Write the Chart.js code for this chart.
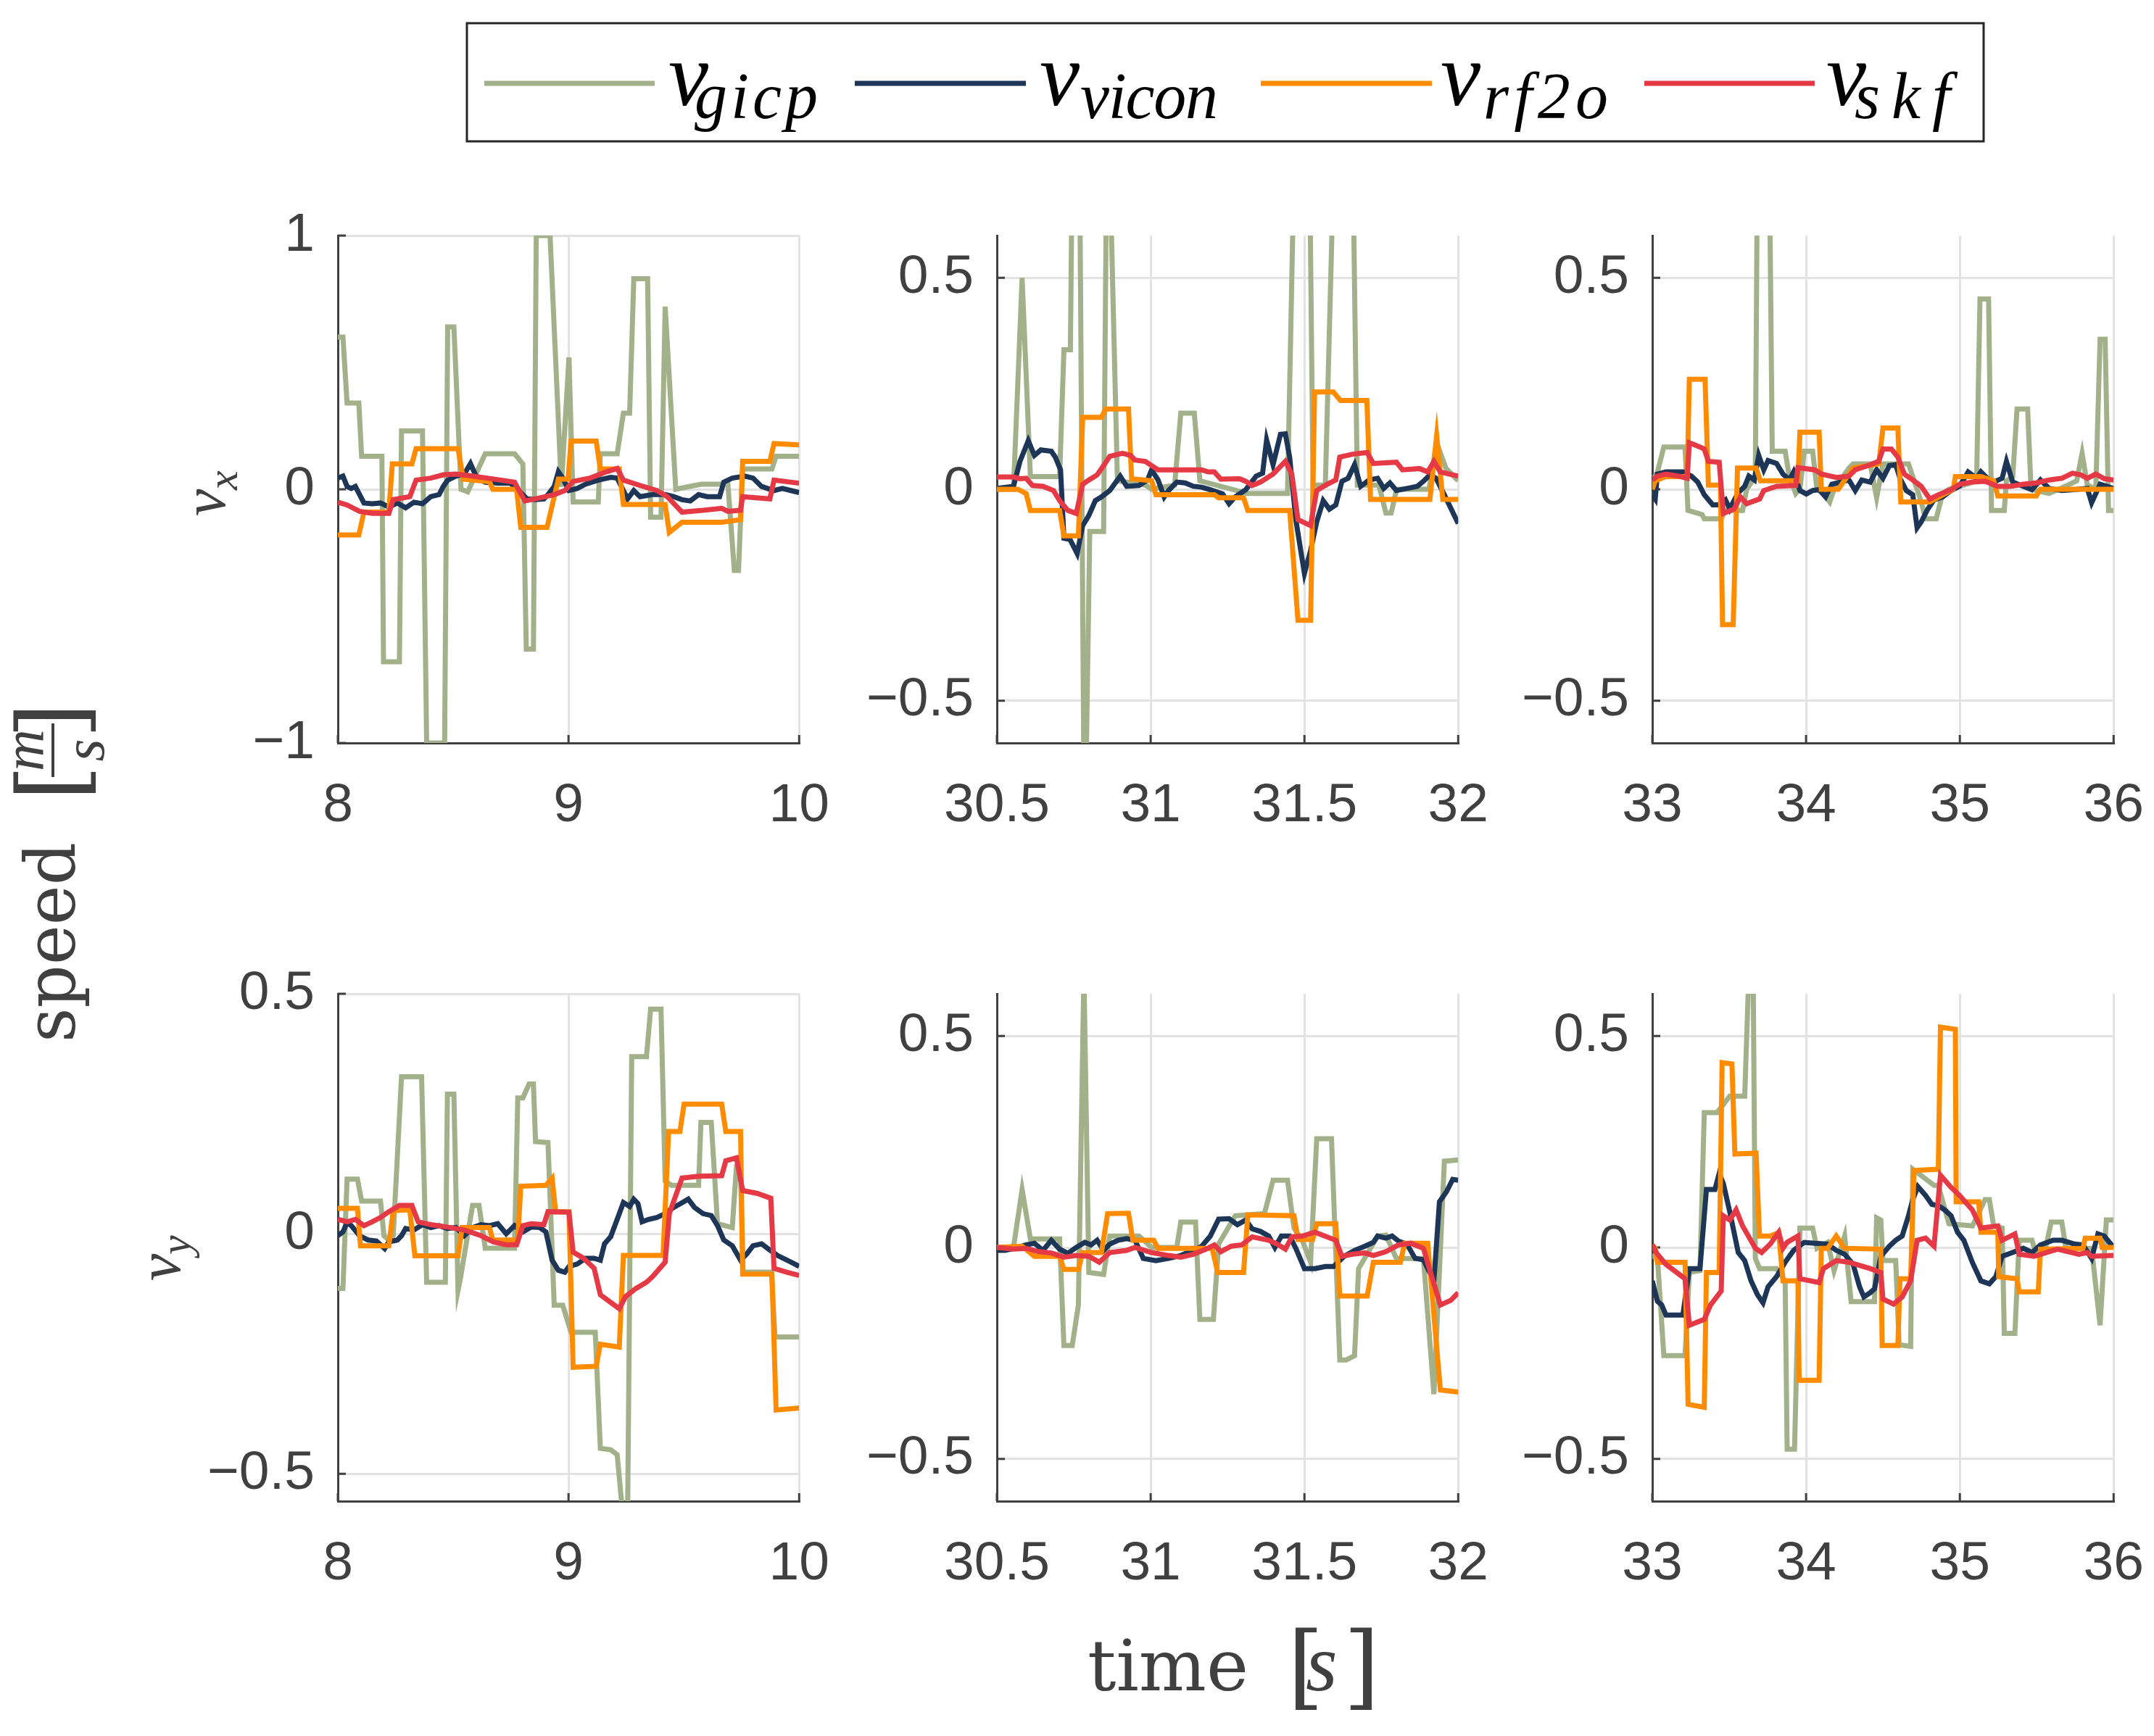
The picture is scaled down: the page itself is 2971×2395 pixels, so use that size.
<!DOCTYPE html>
<html>
<head>
<meta charset="utf-8">
<script src="https://cdn.jsdelivr.net/npm/chart.js@4.4.1/dist/chart.umd.min.js"></script>
<style>
  html, body { margin: 0; padding: 0; background: #fff; overflow: hidden; }
  #page { position: relative; width: 2971px; height: 2395px; overflow: hidden; }
  canvas { position: absolute; }
  #labels { position: absolute; left: 0; top: 0; pointer-events: none; }
  .mi { font-family: 'Liberation Serif', 'Times New Roman', serif; font-style: italic; }
  .rm { font-family: 'DejaVu Serif', serif; }
</style>
</head>
<body>
<div id="page">
  <canvas id="p0"></canvas>
  <canvas id="p1"></canvas>
  <canvas id="p2"></canvas>
  <canvas id="p3"></canvas>
  <canvas id="p4"></canvas>
  <canvas id="p5"></canvas>
  <svg id="labels" width="2971" height="2395" xmlns="http://www.w3.org/2000/svg">
    <!-- legend -->
    <rect x="644" y="32" width="2092" height="163" fill="#fff" stroke="#262626" stroke-width="3"/>
    <line x1="668" y1="115" x2="903" y2="115" stroke="#a3b18a" stroke-width="7"/>
    <line x1="1179" y1="115" x2="1415" y2="115" stroke="#1d3557" stroke-width="7"/>
    <line x1="1739" y1="115" x2="1975" y2="115" stroke="#ff8c00" stroke-width="7"/>
    <line x1="2268" y1="115" x2="2503" y2="115" stroke="#e63946" stroke-width="7"/>
    <g fill="#000">
      <text class="mi" x="922" y="145" font-size="124">v</text>
      <text class="mi" x="958" y="163" font-size="90" textLength="170" lengthAdjust="spacing">gicp</text>
      <text class="mi" x="1434" y="145" font-size="124">v</text>
      <text class="mi" x="1490" y="163" font-size="90" textLength="190" lengthAdjust="spacing">vicon</text>
      <text class="mi" x="1987" y="145" font-size="124">v</text>
      <text class="mi" x="2046" y="163" font-size="90" textLength="172" lengthAdjust="spacing">rf2o</text>
      <text class="mi" x="2519" y="145" font-size="124">v</text>
      <text class="mi" x="2558" y="163" font-size="90" textLength="132" lengthAdjust="spacing">skf</text>
    </g>
    <!-- y labels -->
    <g fill="#404040">
      <g transform="rotate(-90)">
        <text class="rm" x="-1438" y="103" font-size="96" textLength="276" lengthAdjust="spacingAndGlyphs">speed</text>
        <text class="rm" x="-1105" y="115" font-size="128">[</text>
        <text class="mi" x="-1035" y="59" font-size="80" text-anchor="middle">m</text>
        <line x1="-1072" y1="73" x2="-998" y2="73" stroke="#404040" stroke-width="4"/>
        <text class="mi" x="-1035" y="143" font-size="80" text-anchor="middle">s</text>
        <text class="rm" x="-969" y="115" font-size="128" text-anchor="end">]</text>
        <text class="mi" x="-712" y="310" font-size="84">v</text>
        <text class="mi" x="-676" y="327" font-size="60">x</text>
        <text class="mi" x="-1767" y="248" font-size="84">v</text>
        <text class="mi" x="-1731" y="262" font-size="60">y</text>
      </g>
      <!-- x label -->
      <text class="rm" x="1500" y="2332" font-size="98" textLength="222" lengthAdjust="spacingAndGlyphs">time</text>
      <text class="rm" x="1776" y="2342" font-size="128">[</text>
      <text class="mi" x="1801" y="2332" font-size="112">s</text>
      <text class="rm" x="1853" y="2342" font-size="128">]</text>
    </g>
  </svg>
</div>
<script>
// series order: gicp, vicon, rf2o, skf
var seriesNames = ['v_gicp', 'v_vicon', 'v_rf2o', 'v_skf'];
var seriesColors = ['#a3b18a', '#1d3557', '#ff8c00', '#e63946'];

// axis windows and ticks
var xRangeA = [8, 10], xTicksA = [8, 9, 10];
var xRangeB = [30.5, 32], xTicksB = [30.5, 31, 31.5, 32];
var xRangeC = [33, 36], xTicksC = [33, 34, 35, 36];
var yRangeVxA = [-1, 1], yTicksVxA = [-1, 0, 1];
var yRangeWide = [-0.6, 0.6], yTicksHalf = [-0.5, 0, 0.5];
var yRangeVyA = [-0.557, 0.5];

// ---- v_x, 8..10 s ----
var vxGicpA = [[8.000,0.60],[8.022,0.60],[8.040,0.34],[8.091,0.34],[8.103,0.13],[8.191,0.13],[8.198,-0.68],[8.267,-0.68],[8.276,0.23],[8.367,0.23],[8.385,-1.0],[8.463,-1.0],[8.476,0.64],[8.503,0.64],[8.534,0.0],[8.563,-0.01],[8.639,0.14],[8.766,0.14],[8.802,0.10],[8.817,-0.63],[8.848,-0.63],[8.860,1.0],[8.920,1.0],[8.969,0.01],[9.002,0.52],[9.020,-0.05],[9.129,-0.05],[9.138,0.14],[9.211,0.14],[9.238,0.30],[9.265,0.30],[9.283,0.83],[9.343,0.83],[9.356,-0.11],[9.401,-0.11],[9.419,0.72],[9.465,0.0],[9.574,0.02],[9.691,0.02],[9.719,-0.32],[9.737,-0.32],[9.755,0.08],[9.882,0.08],[9.900,0.13],[10.0,0.13]];
var vxViconA = [[8.000,0.044],[8.022,0.052],[8.040,0.011],[8.058,0.003],[8.076,0.011],[8.113,-0.054],[8.149,-0.057],[8.185,-0.054],[8.221,-0.070],[8.258,-0.054],[8.294,-0.073],[8.330,-0.051],[8.367,-0.057],[8.403,-0.029],[8.439,-0.021],[8.457,0.011],[8.476,0.036],[8.512,0.052],[8.548,0.060],[8.575,0.101],[8.603,0.044],[8.639,0.028],[8.693,0.024],[8.748,0.024],[8.784,-0.005],[8.820,-0.038],[8.857,-0.041],[8.893,-0.038],[8.911,-0.021],[8.938,0.011],[8.956,0.069],[8.975,0.044],[9.002,-0.005],[9.038,0.003],[9.074,0.020],[9.129,0.036],[9.183,0.047],[9.211,0.044],[9.238,-0.005],[9.256,-0.038],[9.283,-0.005],[9.310,-0.029],[9.365,-0.021],[9.419,-0.021],[9.456,-0.029],[9.492,-0.041],[9.528,-0.046],[9.564,-0.021],[9.601,-0.029],[9.655,-0.029],[9.673,0.028],[9.710,0.044],[9.764,0.052],[9.800,0.044],[9.837,0.011],[9.891,-0.005],[9.927,0.003],[9.964,-0.005],[10.0,-0.013]];
var vxRf2oA = [[8.000,-0.18],[8.091,-0.18],[8.113,-0.09],[8.221,-0.09],[8.236,0.10],[8.321,0.10],[8.339,0.16],[8.521,0.16],[8.544,0.04],[8.657,0.03],[8.672,0.0],[8.775,0.0],[8.793,-0.15],[8.907,-0.15],[8.956,0.04],[8.998,0.04],[9.011,0.19],[9.120,0.19],[9.138,0.08],[9.220,0.08],[9.238,-0.06],[9.419,-0.06],[9.437,-0.17],[9.492,-0.13],[9.664,-0.13],[9.746,-0.12],[9.755,0.11],[9.873,0.11],[9.891,0.18],[10.0,0.175]];
var vxSkfA = [[8.000,-0.051],[8.040,-0.062],[8.094,-0.087],[8.149,-0.095],[8.221,-0.095],[8.240,-0.041],[8.312,-0.029],[8.339,0.036],[8.403,0.044],[8.457,0.057],[8.512,0.060],[8.584,0.052],[8.648,0.044],[8.766,0.028],[8.811,-0.046],[8.875,-0.034],[8.938,-0.021],[8.984,-0.005],[9.020,0.031],[9.093,0.044],[9.165,0.069],[9.211,0.082],[9.238,0.036],[9.310,0.015],[9.383,-0.005],[9.428,-0.029],[9.492,-0.090],[9.583,-0.083],[9.664,-0.075],[9.691,-0.087],[9.746,-0.083],[9.755,-0.029],[9.873,-0.038],[9.891,0.036],[10.0,0.024]];

// ---- v_x, 30.5..32 s ----
var vxGicpB = [[30.500,0.0],[30.554,0.0],[30.582,0.50],[30.609,0.03],[30.704,0.03],[30.718,0.33],[30.739,0.33],[30.748,1.0],[30.767,1.0],[30.785,-0.9],[30.802,-0.10],[30.847,-0.10],[30.857,0.8],[30.866,0.8],[30.892,0.02],[30.983,0.01],[31.003,0.0],[31.078,0.01],[31.098,0.18],[31.142,0.18],[31.160,0.02],[31.316,-0.01],[31.432,-0.01],[31.445,-0.01],[31.470,0.9],[31.515,0.9],[31.528,0.01],[31.568,0.01],[31.600,0.9],[31.655,0.9],[31.672,0.01],[31.742,0.01],[31.765,-0.056],[31.782,-0.056],[31.800,0.0],[31.905,0.0],[31.930,0.11],[31.960,0.05],[32.0,0.02]];
var vxViconB = [[30.500,0.002],[30.554,0.007],[30.575,0.066],[30.602,0.115],[30.622,0.080],[30.643,0.093],[30.677,0.090],[30.690,0.076],[30.707,0.046],[30.718,-0.116],[30.738,-0.119],[30.761,-0.152],[30.779,-0.086],[30.799,-0.062],[30.820,-0.027],[30.840,-0.018],[30.867,-0.003],[30.901,0.031],[30.922,0.007],[30.962,0.009],[30.990,0.022],[31.003,0.046],[31.024,0.022],[31.044,-0.018],[31.058,-0.003],[31.085,0.017],[31.112,0.015],[31.139,0.007],[31.166,0.005],[31.194,-0.001],[31.234,-0.011],[31.255,-0.034],[31.275,-0.018],[31.309,-0.001],[31.343,0.031],[31.364,0.038],[31.377,0.117],[31.398,0.058],[31.422,0.130],[31.438,0.131],[31.452,0.076],[31.472,-0.072],[31.500,-0.199],[31.520,-0.145],[31.540,-0.077],[31.561,-0.027],[31.581,-0.047],[31.602,-0.037],[31.622,0.019],[31.642,0.026],[31.663,0.058],[31.683,0.007],[31.710,0.022],[31.738,0.026],[31.758,0.002],[31.778,0.015],[31.799,-0.003],[31.833,0.002],[31.867,0.007],[31.887,0.019],[31.908,0.034],[31.928,0.026],[31.955,-0.013],[32.0,-0.081]];
var vxRf2oB = [[30.500,0.0],[30.568,0.0],[30.595,-0.01],[30.609,-0.05],[30.704,-0.05],[30.718,-0.11],[30.765,-0.11],[30.779,0.17],[30.840,0.17],[30.854,0.19],[30.928,0.19],[30.938,0.025],[31.003,0.02],[31.017,-0.013],[31.207,-0.013],[31.221,-0.02],[31.302,-0.02],[31.316,-0.05],[31.452,-0.05],[31.479,-0.31],[31.520,-0.31],[31.533,0.23],[31.594,0.23],[31.617,0.21],[31.703,0.21],[31.715,-0.024],[31.908,-0.024],[31.930,0.127],[31.950,-0.024],[32.0,-0.024]];
var vxSkfB = [[30.500,0.029],[30.554,0.029],[30.575,0.025],[30.595,0.026],[30.616,0.009],[30.650,0.007],[30.684,-0.003],[30.704,-0.027],[30.731,-0.050],[30.758,-0.057],[30.779,0.012],[30.799,0.022],[30.826,0.034],[30.847,0.056],[30.867,0.078],[30.908,0.085],[30.935,0.080],[30.949,0.069],[30.983,0.066],[31.003,0.056],[31.024,0.046],[31.166,0.046],[31.187,0.041],[31.207,0.041],[31.228,0.024],[31.289,0.025],[31.309,0.019],[31.330,0.009],[31.357,0.017],[31.398,0.036],[31.438,0.066],[31.459,0.036],[31.479,-0.072],[31.520,-0.086],[31.540,-0.003],[31.574,0.012],[31.602,0.022],[31.615,0.076],[31.656,0.083],[31.704,0.087],[31.724,0.061],[31.799,0.064],[31.819,0.046],[31.874,0.049],[31.901,0.041],[31.921,0.066],[31.942,0.041],[32.0,0.031]];

// ---- v_x, 33..36 s ----
var vxGicpC = [[33.000,0.02],[33.033,0.04],[33.075,0.10],[33.213,0.10],[33.232,-0.05],[33.324,-0.06],[33.338,-0.07],[33.448,-0.07],[33.476,-0.05],[33.587,-0.05],[33.614,0.0],[33.670,0.03],[33.686,0.9],[33.758,0.9],[33.780,0.09],[33.864,0.09],[33.891,0.03],[33.933,-0.01],[33.960,0.0],[33.988,0.09],[34.043,0.09],[34.071,0.0],[34.113,-0.01],[34.154,-0.03],[34.182,0.0],[34.279,0.05],[34.306,0.06],[34.417,0.06],[34.459,-0.02],[34.500,0.06],[34.666,0.06],[34.694,0.03],[34.749,-0.03],[34.777,-0.07],[34.846,-0.07],[34.888,-0.01],[34.929,0.0],[35.026,0.01],[35.109,0.02],[35.131,0.45],[35.187,0.45],[35.206,-0.05],[35.289,-0.05],[35.303,0.02],[35.344,0.03],[35.372,0.19],[35.441,0.19],[35.463,0.0],[35.580,-0.01],[35.704,0.01],[35.760,0.02],[35.795,0.085],[35.829,0.01],[35.884,0.0],[35.912,0.355],[35.945,0.355],[35.967,-0.05],[36.0,-0.05]];
var vxViconC = [[33.000,-0.013],[33.019,-0.023],[33.033,0.036],[33.089,0.041],[33.199,0.041],[33.255,0.031],[33.296,0.017],[33.338,-0.013],[33.393,-0.037],[33.435,-0.037],[33.476,-0.025],[33.504,-0.047],[33.531,-0.027],[33.559,-0.008],[33.601,0.007],[33.628,0.031],[33.664,0.022],[33.692,0.080],[33.725,0.046],[33.753,0.068],[33.808,0.061],[33.850,0.036],[33.891,0.022],[33.919,0.041],[33.960,-0.003],[34.002,-0.011],[34.043,-0.003],[34.085,-0.001],[34.127,-0.018],[34.168,0.012],[34.223,0.017],[34.279,0.022],[34.320,-0.003],[34.362,0.022],[34.417,0.017],[34.459,0.046],[34.500,0.026],[34.542,0.056],[34.583,0.058],[34.611,0.026],[34.652,-0.003],[34.694,-0.013],[34.722,-0.091],[34.749,-0.077],[34.791,-0.047],[34.832,-0.025],[34.888,-0.018],[34.943,-0.003],[34.998,0.007],[35.054,0.041],[35.109,0.026],[35.137,0.041],[35.178,0.026],[35.220,0.017],[35.275,0.026],[35.303,0.066],[35.344,0.017],[35.413,0.007],[35.469,-0.001],[35.524,0.022],[35.580,0.002],[35.663,-0.003],[35.746,-0.001],[35.829,0.002],[35.857,-0.032],[35.912,0.012],[36.0,0.002]];
var vxRf2oC = [[33.000,0.0],[33.019,0.02],[33.089,0.03],[33.227,0.03],[33.241,0.26],[33.343,0.26],[33.365,0.01],[33.443,0.01],[33.457,-0.32],[33.526,-0.32],[33.554,0.05],[33.675,0.05],[33.703,0.02],[33.947,0.02],[33.960,0.135],[34.085,0.135],[34.099,0.0],[34.210,0.0],[34.306,0.05],[34.473,0.06],[34.500,0.145],[34.597,0.145],[34.616,-0.03],[34.805,-0.03],[34.957,0.0],[34.971,0.03],[35.137,0.03],[35.220,0.02],[35.247,-0.016],[35.497,-0.016],[35.524,0.0],[36.0,0.0]];
var vxSkfC = [[33.000,0.022],[33.033,0.031],[33.089,0.036],[33.172,0.031],[33.227,0.026],[33.241,0.110],[33.310,0.100],[33.338,0.095],[33.365,0.066],[33.435,0.064],[33.462,-0.057],[33.531,-0.047],[33.573,-0.018],[33.614,-0.034],[33.698,-0.023],[33.725,-0.003],[33.808,0.007],[33.933,0.009],[33.947,0.051],[34.057,0.046],[34.099,0.036],[34.196,0.028],[34.279,0.031],[34.320,0.046],[34.403,0.056],[34.472,0.066],[34.500,0.095],[34.555,0.095],[34.597,0.076],[34.639,0.036],[34.694,0.022],[34.749,0.007],[34.805,-0.023],[34.860,-0.013],[34.943,-0.001],[34.998,0.012],[35.081,0.017],[35.164,0.019],[35.247,0.007],[35.330,0.007],[35.413,0.012],[35.497,0.015],[35.580,0.022],[35.663,0.026],[35.732,0.038],[35.787,0.034],[35.829,0.026],[35.884,0.036],[35.939,0.025],[36.0,0.022]];

// ---- v_y, 8..10 s ----
var vyGicpA = [[8.000,-0.114],[8.022,-0.114],[8.040,0.114],[8.085,0.114],[8.103,0.068],[8.185,0.068],[8.200,-0.004],[8.221,-0.013],[8.240,-0.004],[8.276,0.327],[8.363,0.327],[8.385,-0.101],[8.466,-0.101],[8.475,0.291],[8.503,0.291],[8.521,-0.118],[8.530,-0.097],[8.584,0.059],[8.612,0.059],[8.639,-0.030],[8.766,-0.030],[8.780,0.283],[8.802,0.283],[8.829,0.312],[8.848,0.312],[8.857,0.192],[8.911,0.190],[8.938,-0.149],[8.975,-0.149],[9.011,-0.205],[9.116,-0.205],[9.138,-0.447],[9.183,-0.450],[9.211,-0.460],[9.238,-0.6],[9.256,-0.6],[9.274,0.369],[9.338,0.369],[9.356,0.468],[9.401,0.468],[9.419,0.110],[9.446,0.101],[9.564,0.101],[9.574,0.232],[9.619,0.232],[9.646,0.021],[9.710,0.013],[9.728,0.14],[9.745,0.14],[9.757,-0.08],[9.880,-0.08],[9.895,-0.215],[10.0,-0.215]];
var vyViconA = [[8.000,-0.004],[8.022,0.004],[8.040,0.023],[8.058,0.017],[8.094,-0.004],[8.131,-0.013],[8.167,-0.015],[8.203,-0.031],[8.221,-0.017],[8.258,-0.013],[8.276,-0.004],[8.294,0.011],[8.330,0.008],[8.367,0.019],[8.403,0.013],[8.439,0.017],[8.475,0.011],[8.512,0.013],[8.548,-0.004],[8.584,0.013],[8.621,0.019],[8.657,0.017],[8.693,0.021],[8.730,0.0],[8.766,0.017],[8.802,0.004],[8.838,0.014],[8.875,0.013],[8.902,0.004],[8.929,-0.055],[8.956,-0.076],[8.984,-0.080],[9.002,-0.068],[9.038,-0.063],[9.074,-0.051],[9.111,-0.051],[9.138,-0.055],[9.156,-0.021],[9.183,-0.006],[9.211,0.030],[9.238,0.065],[9.265,0.057],[9.283,0.072],[9.301,0.063],[9.319,0.025],[9.347,0.030],[9.383,0.034],[9.419,0.042],[9.456,0.055],[9.483,0.062],[9.519,0.072],[9.546,0.055],[9.583,0.042],[9.619,0.038],[9.646,0.017],[9.673,-0.013],[9.710,-0.025],[9.746,-0.055],[9.773,-0.042],[9.800,-0.025],[9.837,-0.021],[9.873,-0.034],[9.909,-0.046],[9.964,-0.059],[10.0,-0.068]];
var vyRf2oA = [[8.000,0.053],[8.085,0.053],[8.098,-0.025],[8.221,-0.025],[8.240,0.048],[8.312,0.050],[8.334,-0.046],[8.521,-0.046],[8.539,0.013],[8.657,0.013],[8.672,-0.013],[8.780,-0.013],[8.793,0.099],[8.902,0.101],[8.929,0.116],[8.944,0.046],[9.002,0.046],[9.020,-0.278],[9.120,-0.276],[9.138,-0.230],[9.220,-0.236],[9.238,-0.045],[9.410,-0.045],[9.434,0.213],[9.483,0.213],[9.501,0.270],[9.664,0.270],[9.682,0.213],[9.746,0.213],[9.755,-0.084],[9.882,-0.084],[9.900,-0.367],[10.0,-0.363]];
var vySkfA = [[8.000,0.030],[8.040,0.025],[8.076,0.030],[8.113,0.017],[8.149,0.025],[8.185,0.034],[8.221,0.046],[8.267,0.059],[8.321,0.059],[8.348,0.025],[8.403,0.019],[8.475,0.014],[8.548,0.008],[8.621,-0.004],[8.675,-0.017],[8.730,-0.023],[8.775,-0.023],[8.802,0.017],[8.838,0.021],[8.893,0.019],[8.911,0.046],[9.002,0.045],[9.020,-0.038],[9.065,-0.051],[9.111,-0.072],[9.138,-0.127],[9.183,-0.143],[9.220,-0.156],[9.247,-0.131],[9.292,-0.114],[9.338,-0.101],[9.365,-0.089],[9.419,-0.059],[9.437,0.042],[9.492,0.116],[9.564,0.120],[9.664,0.121],[9.682,0.152],[9.728,0.158],[9.755,0.090],[9.819,0.084],[9.877,0.074],[9.891,-0.072],[9.946,-0.080],[10.0,-0.087]];

// ---- v_y, 30.5..32 s ----
var vyGicpB = [[30.500,0.0],[30.554,0.0],[30.582,0.137],[30.609,0.020],[30.704,0.020],[30.718,-0.232],[30.745,-0.232],[30.765,-0.136],[30.783,0.65],[30.799,-0.059],[30.847,-0.064],[30.867,0.027],[30.962,0.027],[31.003,0.0],[31.085,0.0],[31.098,0.060],[31.146,0.060],[31.160,-0.170],[31.204,-0.170],[31.221,0.008],[31.275,0.075],[31.370,0.080],[31.398,0.159],[31.445,0.159],[31.466,0.046],[31.493,0.017],[31.520,-0.035],[31.540,0.257],[31.588,0.257],[31.615,-0.266],[31.636,-0.266],[31.663,-0.256],[31.676,-0.050],[31.738,0.027],[31.765,0.029],[31.799,-0.026],[31.887,-0.026],[31.921,-0.347],[31.955,0.204],[32.0,0.207]];
var vyViconB = [[30.500,-0.007],[30.527,-0.007],[30.568,0.0],[30.595,0.006],[30.622,0.010],[30.650,-0.007],[30.677,0.017],[30.704,-0.004],[30.731,-0.014],[30.758,0.0],[30.786,0.012],[30.806,0.006],[30.826,0.017],[30.847,-0.007],[30.867,0.008],[30.894,0.017],[30.922,0.021],[30.949,0.017],[30.976,-0.026],[31.017,-0.031],[31.058,-0.026],[31.098,-0.019],[31.139,-0.007],[31.166,0.003],[31.194,0.027],[31.221,0.067],[31.255,0.068],[31.282,0.054],[31.309,0.065],[31.330,0.044],[31.357,0.038],[31.384,0.027],[31.404,0.0],[31.425,0.027],[31.452,0.027],[31.472,-0.002],[31.500,-0.050],[31.534,-0.050],[31.568,-0.045],[31.595,-0.045],[31.629,-0.021],[31.663,-0.007],[31.697,0.003],[31.724,0.012],[31.738,0.027],[31.765,0.022],[31.785,0.027],[31.806,0.015],[31.833,0.008],[31.860,-0.026],[31.887,-0.029],[31.901,-0.050],[31.921,-0.079],[31.939,0.108],[31.962,0.132],[31.982,0.161],[32.0,0.159]];
var vyRf2oB = [[30.500,0.0],[30.582,0.003],[30.622,-0.021],[30.704,-0.021],[30.718,-0.052],[30.765,-0.052],[30.779,-0.012],[30.840,-0.012],[30.860,0.080],[30.928,0.081],[30.942,0.017],[31.010,0.017],[31.024,-0.002],[31.200,-0.002],[31.218,-0.059],[31.302,-0.059],[31.316,0.077],[31.466,0.075],[31.479,0.019],[31.527,0.019],[31.540,0.056],[31.602,0.056],[31.615,-0.115],[31.704,-0.115],[31.724,-0.035],[31.812,-0.035],[31.826,0.010],[31.901,0.010],[31.942,-0.337],[32.0,-0.342]];
var vySkfB = [[30.500,0.0],[30.554,-0.004],[30.595,-0.002],[30.636,-0.010],[30.677,-0.013],[30.718,-0.023],[30.758,-0.019],[30.799,-0.021],[30.833,-0.035],[30.867,-0.012],[30.922,-0.007],[30.949,0.0],[31.003,-0.012],[31.058,-0.019],[31.098,-0.023],[31.139,-0.016],[31.180,-0.004],[31.207,0.006],[31.228,-0.010],[31.262,0.003],[31.296,0.006],[31.330,0.025],[31.384,0.017],[31.411,0.008],[31.438,-0.004],[31.459,0.025],[31.493,0.027],[31.534,0.036],[31.574,0.025],[31.602,0.017],[31.622,-0.021],[31.656,-0.016],[31.697,-0.013],[31.724,-0.019],[31.765,-0.010],[31.806,0.006],[31.846,0.010],[31.887,-0.002],[31.914,-0.069],[31.942,-0.136],[31.976,-0.125],[32.0,-0.107]];

// ---- v_y, 33..36 s ----
var vyGicpC = [[33.000,-0.021],[33.033,-0.021],[33.075,-0.256],[33.213,-0.256],[33.241,-0.059],[33.310,-0.055],[33.338,0.319],[33.421,0.319],[33.504,0.358],[33.601,0.358],[33.628,0.65],[33.656,0.65],[33.670,-0.026],[33.698,-0.050],[33.808,-0.050],[33.864,-0.079],[33.877,-0.477],[33.925,-0.477],[33.960,0.046],[34.043,0.046],[34.071,-0.002],[34.140,0.012],[34.182,-0.055],[34.251,0.027],[34.293,-0.128],[34.445,-0.128],[34.459,0.070],[34.486,0.065],[34.500,-0.031],[34.583,-0.031],[34.605,-0.230],[34.680,-0.234],[34.694,0.185],[34.832,0.147],[34.860,0.147],[34.929,0.056],[35.082,0.051],[35.164,0.113],[35.192,0.113],[35.220,0.051],[35.275,0.046],[35.289,-0.203],[35.358,-0.203],[35.386,0.017],[35.469,0.017],[35.497,-0.016],[35.552,-0.012],[35.594,0.060],[35.663,0.060],[35.690,-0.002],[35.857,-0.002],[35.912,-0.184],[35.953,0.065],[36.0,0.065]];
var vyViconC = [[33.000,-0.079],[33.033,-0.127],[33.061,-0.136],[33.089,-0.160],[33.199,-0.160],[33.241,-0.050],[33.310,-0.050],[33.352,0.137],[33.407,0.137],[33.435,0.175],[33.462,0.151],[33.504,0.084],[33.559,-0.012],[33.601,-0.031],[33.642,-0.079],[33.684,-0.112],[33.720,-0.131],[33.753,-0.093],[33.808,-0.069],[33.864,-0.035],[33.919,-0.007],[33.988,0.012],[34.057,0.010],[34.140,0.008],[34.196,-0.007],[34.251,-0.016],[34.306,-0.040],[34.348,-0.093],[34.376,-0.117],[34.417,-0.107],[34.445,-0.098],[34.486,-0.021],[34.542,0.003],[34.583,0.017],[34.625,0.027],[34.666,0.075],[34.694,0.113],[34.727,0.144],[34.777,0.123],[34.818,0.102],[34.860,0.099],[34.901,0.089],[34.943,0.075],[34.985,0.036],[35.026,0.017],[35.081,-0.035],[35.137,-0.079],[35.192,-0.086],[35.234,-0.069],[35.275,-0.021],[35.358,-0.010],[35.413,-0.002],[35.469,-0.012],[35.524,0.006],[35.607,0.017],[35.663,0.017],[35.746,0.008],[35.801,0.006],[35.857,-0.026],[35.898,0.032],[35.939,0.027],[36.0,0.0]];
var vyRf2oC = [[33.000,0.006],[33.019,-0.002],[33.033,-0.035],[33.213,-0.035],[33.233,-0.371],[33.338,-0.378],[33.352,-0.059],[33.435,-0.059],[33.454,0.437],[33.518,0.434],[33.537,0.221],[33.675,0.223],[33.697,0.027],[33.767,0.027],[33.822,0.035],[33.850,-0.079],[33.947,-0.079],[33.955,-0.314],[34.085,-0.314],[34.099,-0.002],[34.140,-0.002],[34.196,0.027],[34.251,-0.002],[34.486,-0.004],[34.495,-0.232],[34.597,-0.232],[34.611,-0.074],[34.680,-0.074],[34.702,0.182],[34.860,0.185],[34.874,0.521],[34.971,0.516],[34.976,0.108],[35.123,0.108],[35.137,0.036],[35.247,0.036],[35.253,-0.069],[35.372,-0.074],[35.386,-0.105],[35.510,-0.105],[35.524,-0.004],[35.801,-0.002],[35.815,0.022],[35.912,0.022],[35.926,0.0],[36.0,0.0]];
var vySkfC = [[33.000,0.006],[33.033,-0.016],[33.089,-0.040],[33.144,-0.055],[33.213,-0.074],[33.241,-0.184],[33.338,-0.170],[33.379,-0.136],[33.448,-0.103],[33.462,0.075],[33.504,0.065],[33.545,0.089],[33.587,0.051],[33.670,-0.002],[33.711,-0.012],[33.767,0.008],[33.822,0.036],[33.850,-0.002],[33.877,0.012],[33.947,0.027],[33.960,-0.074],[34.085,-0.083],[34.113,-0.050],[34.196,-0.031],[34.279,-0.035],[34.417,-0.050],[34.486,-0.059],[34.500,-0.122],[34.569,-0.134],[34.625,-0.117],[34.680,-0.079],[34.722,0.017],[34.777,0.022],[34.832,0.003],[34.874,0.171],[34.943,0.142],[34.998,0.123],[35.081,0.089],[35.137,0.046],[35.247,0.051],[35.275,0.017],[35.358,0.032],[35.386,-0.016],[35.483,-0.021],[35.635,-0.004],[35.774,-0.016],[35.829,-0.012],[35.857,-0.021],[36.0,-0.019]];

// ---- layout (page pixels) ----
var AXIS_W = 300, AXIS_H = 160, PAD_T = 40, PAD_R = 55;
var PLOT_W = 636, PLOT_H = 700;
var colLeft = [466, 1375, 2279];
var rowTop = [325, 1371];
var AXIS_COLOR = '#404040';
var GRID_COLOR = '#e3e3e3';
var TICK_FONT = { family: '"Liberation Sans", Arial, sans-serif', size: 75 };

var panels = [
  { sets: [vxGicpA, vxViconA, vxRf2oA, vxSkfA], x: xRangeA, xt: xTicksA, y: yRangeVxA, yt: yTicksVxA, col: 0, row: 0 },
  { sets: [vxGicpB, vxViconB, vxRf2oB, vxSkfB], x: xRangeB, xt: xTicksB, y: yRangeWide, yt: yTicksHalf, col: 1, row: 0 },
  { sets: [vxGicpC, vxViconC, vxRf2oC, vxSkfC], x: xRangeC, xt: xTicksC, y: yRangeWide, yt: yTicksHalf, col: 2, row: 0 },
  { sets: [vyGicpA, vyViconA, vyRf2oA, vySkfA], x: xRangeA, xt: xTicksA, y: yRangeVyA, yt: yTicksHalf, col: 0, row: 1 },
  { sets: [vyGicpB, vyViconB, vyRf2oB, vySkfB], x: xRangeB, xt: xTicksB, y: yRangeWide, yt: yTicksHalf, col: 1, row: 1 },
  { sets: [vyGicpC, vyViconC, vyRf2oC, vySkfC], x: xRangeC, xt: xTicksC, y: yRangeWide, yt: yTicksHalf, col: 2, row: 1 }
];

function fmtTick(v) {
  var s = String(Math.abs(v));
  return v < 0 ? '\u2212' + s : s;
}

// MATLAB-style ticks pointing into the axes
var innerTicks = {
  id: 'innerTicks',
  beforeDatasetsDraw: function(chart) {
    var ctx = chart.ctx, a = chart.chartArea;
    var xs = chart.scales.x, ys = chart.scales.y;
    ctx.save();
    ctx.strokeStyle = AXIS_COLOR;
    ctx.lineWidth = 3;
    ctx.beginPath();
    xs.ticks.forEach(function(t) {
      var px = xs.getPixelForValue(t.value);
      ctx.moveTo(px, a.bottom);
      ctx.lineTo(px, a.bottom - 11);
    });
    ys.ticks.forEach(function(t) {
      var py = ys.getPixelForValue(t.value);
      ctx.moveTo(a.left, py);
      ctx.lineTo(a.left + 11, py);
    });
    ctx.stroke();
    ctx.restore();
  }
};

function buildChart(cv, p, w, h) {
  cv.width = w; cv.height = h;
  cv.style.width = w + 'px'; cv.style.height = h + 'px';
  return new Chart(cv.getContext('2d'), {
    type: 'line',
    data: {
      datasets: p.sets.map(function(pts, k) {
        return {
          label: seriesNames[k],
          data: pts.map(function(d) { return { x: d[0], y: d[1] }; }),
          borderColor: seriesColors[k],
          borderWidth: 7,
          pointRadius: 0,
          tension: 0,
          fill: false,
          order: 3 - k
        };
      })
    },
    options: {
      responsive: false,
      animation: false,
      devicePixelRatio: 1,
      layout: { padding: { left: 0, top: PAD_T, right: PAD_R, bottom: 0 }, autoPadding: false },
      plugins: { legend: { display: false }, tooltip: { enabled: false } },
      scales: {
        x: {
          type: 'linear',
          min: p.x[0], max: p.x[1],
          afterBuildTicks: function(s) { s.ticks = p.xt.map(function(v) { return { value: v }; }); },
          afterFit: function(s) { s.height = AXIS_H; },
          grid: { color: GRID_COLOR, lineWidth: 3, drawTicks: false },
          border: { display: true, color: AXIS_COLOR, width: 3 },
          ticks: { padding: 42, color: AXIS_COLOR, font: TICK_FONT, maxRotation: 0, autoSkip: false, callback: fmtTick }
        },
        y: {
          type: 'linear',
          min: p.y[0], max: p.y[1],
          afterBuildTicks: function(s) { s.ticks = p.yt.map(function(v) { return { value: v }; }); },
          afterFit: function(s) { s.width = AXIS_W; },
          grid: { color: GRID_COLOR, lineWidth: 3, drawTicks: false },
          border: { display: true, color: AXIS_COLOR, width: 3 },
          ticks: { padding: 32, color: AXIS_COLOR, font: TICK_FONT, autoSkip: false, callback: fmtTick }
        }
      }
    },
    plugins: [innerTicks]
  });
}

panels.forEach(function(p, i) {
  var cv = document.getElementById('p' + i);
  var w = PLOT_W + AXIS_W + PAD_R, h = PLOT_H + PAD_T + AXIS_H;
  // first pass: see how much room the layout keeps, then size the canvas so the plot box is exact
  var chart = buildChart(cv, p, w, h);
  var a = chart.chartArea;
  var w2 = w + (PLOT_W - (a.right - a.left));
  var h2 = h + (PLOT_H - (a.bottom - a.top));
  chart.destroy();
  chart = buildChart(cv, p, Math.round(w2), Math.round(h2));
  a = chart.chartArea;
  cv.style.left = Math.round(colLeft[p.col] - a.left) + 'px';
  cv.style.top = Math.round(rowTop[p.row] - a.top) + 'px';
});
</script>
</body>
</html>
